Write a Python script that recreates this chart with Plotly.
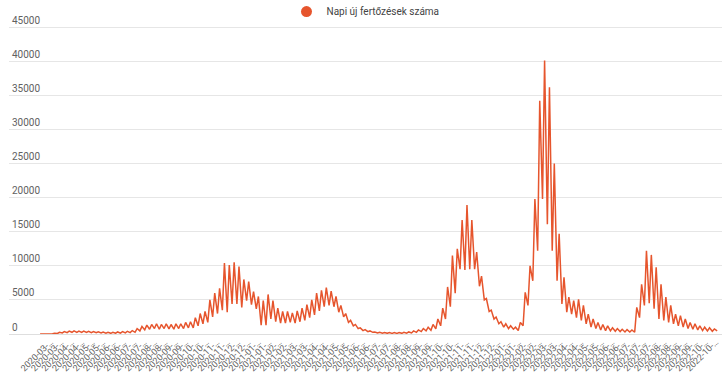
import pandas as pd
import plotly.graph_objects as go

# Weekly reporting: one high (Thursday) and one low (Monday) value per week
start = pd.Timestamp("2020-02-27")

weekly_high_2020 = [0, 20, 50, 120, 250, 350, 420, 450, 430, 420,
                    380, 350, 320, 280, 250, 260, 300, 350, 400, 500,
                    800, 1100, 1300, 1400, 1500, 1400, 1500, 1400, 1500, 1500,
                    1700, 1800, 2400, 3000, 3300, 5000, 6000, 6700, 10400, 10100,
                    10500, 9900, 8000, 7700, 6200]
weekly_low_2020 = [0, 10, 30, 70, 150, 200, 250, 250, 230, 220,
                   200, 180, 150, 120, 100, 110, 130, 160, 200, 250,
                   450, 600, 700, 800, 700, 800, 750, 700, 800, 800,
                   900, 900, 1200, 1500, 1700, 2500, 3000, 3500, 3200, 4400,
                   4400, 3900, 4900, 4300, 3700]

weekly_high_2021 = [5500, 4900, 5800, 4900, 3800, 3300, 3300, 3100, 3400, 3800,
                    4300, 5000, 6000, 6400, 6800, 6300, 5500, 4200, 3000, 2000,
                    1400, 900, 650, 450, 300, 250, 220, 200, 200, 220,
                    250, 300, 450, 600, 800, 1000, 1400, 2200, 3800, 6900,
                    11500, 12500, 16700, 18900, 16700, 12000, 8500, 5200, 3500, 2500,
                    1800, 1500]
weekly_low_2021 = [1300, 1300, 2200, 1800, 1600, 1600, 1700, 1600, 1800, 2000,
                   2400, 2800, 3400, 4000, 4200, 4000, 3200, 2500, 1700, 1200,
                   800, 500, 350, 250, 150, 120, 100, 90, 90, 100,
                   120, 150, 250, 350, 450, 550, 750, 1200, 2200, 4000,
                   6000, 9500, 9400, 9500, 9500, 7000, 5000, 3300, 2200, 1500,
                   1000, 800]

weekly_high_2022 = [1200, 1000, 1700, 6100, 10000, 19800, 34200, 40100, 36200, 25000,
                    14700, 8300, 5400, 4900, 5100, 4200, 2900, 2200, 1700, 1400,
                    1200, 900, 800, 700, 650, 600, 3900, 7300, 12200, 11600,
                    9800, 7300, 5400, 4200, 2900, 2700, 2200, 1700, 1500, 1200,
                    1000, 900, 750]
weekly_low_2022 = [700, 500, 1200, 4200, 7800, 12200, 19800, 16100, 12200, 7800,
                   4400, 3200, 2900, 2400, 2000, 1500, 1000, 800, 600, 500,
                   450, 400, 350, 300, 300, 250, 2400, 4200, 4500, 3700,
                   2200, 2000, 1700, 1500, 1200, 1000, 800, 700, 600, 500,
                   450, 400, 450]

series_name = "Napi új fertőzések száma"

highs = weekly_high_2020 + weekly_high_2021 + weekly_high_2022
lows = weekly_low_2020 + weekly_low_2021 + weekly_low_2022

dates, values = [], []
for k, (h, l) in enumerate(zip(highs, lows)):
    dates.append(start + pd.Timedelta(days=7 * k))
    values.append(h)
    dates.append(start + pd.Timedelta(days=7 * k + 4))
    values.append(l)

tick_dates = [start + pd.Timedelta(days=15 * j) for j in range(66)]
tick_text = [d.strftime("%Y-%m-") + "…" for d in tick_dates]

color = "#e6552d"
fig = go.Figure()
fig.add_trace(go.Scatter(x=dates, y=values, mode="lines",
                         line=dict(color=color, width=1.5),
                         showlegend=False, name=series_name))
fig.add_trace(go.Scatter(x=[None], y=[None], mode="markers",
                         marker=dict(size=11, color=color),
                         name=series_name, showlegend=True))

x_left = start - pd.Timedelta(hours=int(44.9 * 24))
x_right = start + pd.Timedelta(days=984)

fig.update_layout(
    width=727, height=385,
    margin=dict(l=9, r=5, t=4, b=51, pad=0, autoexpand=False),
    paper_bgcolor="white", plot_bgcolor="white",
    font=dict(family="Roboto", color="#5f5f5f"),
    legend=dict(orientation="h", x=0.5, xanchor="center", y=1.021, yanchor="top",
                font=dict(size=10, color="#444444"), itemwidth=30,
                bgcolor="rgba(0,0,0,0)"),
    xaxis=dict(type="date", range=[x_left, x_right], tickmode="array",
               tickvals=tick_dates, ticktext=tick_text, tickangle=-45,
               showgrid=False, zeroline=False, showline=False, ticks="",
               tickfont=dict(size=9, color="#616161")),
    yaxis=dict(range=[0, 48400], tickmode="array",
               tickvals=[0, 5000, 10000, 15000, 20000, 25000, 30000, 35000, 40000, 45000],
               tickformat="d",
               showgrid=True, gridcolor="#e6e6e6", gridwidth=1, zeroline=True,
               zerolinecolor="#dedede", zerolinewidth=1, showline=False,
               ticks="", ticklabelposition="inside top",
               tickfont=dict(size=10, color="#616161")),
)

fig.write_html("out.html", config={"displayModeBar": False},
               post_script="document.body.style.margin='0';")
